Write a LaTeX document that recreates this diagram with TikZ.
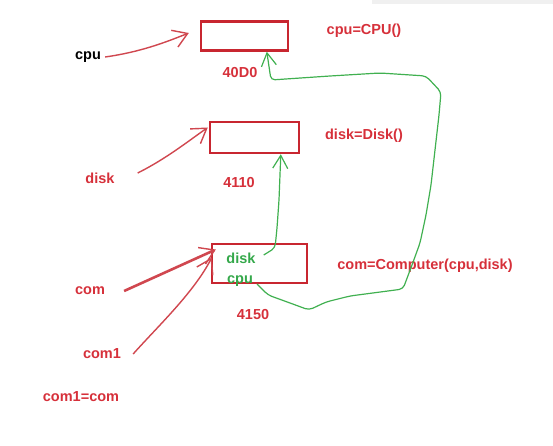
\documentclass[tikz,border=0pt]{standalone}
\usepackage{fontspec}
\setmainfont{Liberation Sans}
\usetikzlibrary{arrows.meta}
\definecolor{txtred}{RGB}{214,48,58}
\definecolor{boxred}{RGB}{200,38,48}
\definecolor{linkgreen}{RGB}{64,176,80}
\definecolor{txtgreen}{RGB}{52,168,74}
\tikzset{
  lbl/.style={font=\fontsize{14.5}{17}\selectfont\bfseries, text=txtred, inner sep=0pt},
  glbl/.style={font=\fontsize{14.5}{17}\selectfont\bfseries, text=txtgreen, inner sep=0pt},
  membox/.style={draw=boxred, line width=2.4pt, inner sep=0pt},
  redarrow/.style={draw=boxred!85!white, line width=1.4pt, -{Straight Barb[length=14pt,width=18pt,line width=1.4pt]}},
  greenarrow/.style={draw=linkgreen, line width=1.2pt, rounded corners=4pt, -{Straight Barb[length=13pt,width=15pt,line width=1.2pt]}}
}
\begin{document}
\begin{tikzpicture}[x=1pt,y=-1pt]
\useasboundingbox (0,0) rectangle (553,446);
\fill[gray!12] (372,0) rectangle (553,4);
% memory boxes
\node[membox, minimum width=87pt, minimum height=29pt] (cpubox) at (244.5,36) {};
\node[membox, minimum width=89pt, minimum height=31pt] (diskbox) at (254.5,137.5) {};
\node[membox, minimum width=95pt, minimum height=39pt] (combox) at (259.5,263.5) {};
% labels
\node[lbl, text=black] (cpulbl) at (88,57) {cpu};
\node[lbl] (cpuaddr) at (240,73) {40D0};
\node[lbl] (cpucode) at (364,31) {cpu=CPU()};
\node[lbl] (disklbl) at (100,178) {disk};
\node[lbl] (diskaddr) at (239,183) {4110};
\node[lbl] (diskcode) at (364,136) {disk=Disk()};
\node[lbl] (comlbl) at (90,291) {com};
\node[lbl] (com1lbl) at (102,354) {com1};
\node[lbl] (com1code) at (81,397) {com1=com};
\node[lbl] (comaddr) at (253,315) {4150};
\node[lbl] (comcode) at (425,266) {com=Computer(cpu,disk)};
\node[glbl] (gdisk) at (241,258) {disk};
\node[glbl] (gcpu) at (240,281) {cpu};
% tips
\coordinate (cputip) at ([xshift=-11pt,yshift=3pt]cpubox.west);
\coordinate (disktip) at ([xshift=-1pt,yshift=10pt]diskbox.west);
\coordinate (comtip) at ([xshift=5pt,yshift=14pt]combox.west);
\coordinate (com1tip) at ([xshift=1pt,yshift=6pt]combox.west);
\coordinate (dtip) at ([xshift=72pt]diskbox.south west);
\coordinate (ctip) at ([xshift=67pt]cpubox.south west);
% red pointer arrows
\draw[redarrow] ([xshift=4pt]cpulbl.east) .. controls +(35,-5) and +(-25,10) .. (cputip);
\draw[redarrow] ([xshift=23pt,yshift=5pt]disklbl.east) .. controls +(28,-14) and +(-20,14) .. (disktip);
\draw[redarrow, line width=2.6pt] ([xshift=19pt]comlbl.east) -- (comtip);
\draw[redarrow] ([xshift=12pt]com1lbl.east) .. controls +(25,-28) and +(-18,35) .. (com1tip);
% green reference links
\draw[greenarrow] ([xshift=8pt,yshift=3pt]gdisk.east) -- (275,248) -- (277,228) -- (279,200) -- (dtip);
\draw[greenarrow] ([xshift=4pt,yshift=-3pt]gcpu.east) -- (268,295) -- (290,303) -- (309,310) -- (326,302) -- (350,296)
  -- (403,289) -- (412,265) -- (420,243) -- (426,215) -- (431,185) -- (435,150) -- (439,115) -- (441,92)
  -- (426,76) -- (380,73) -- (330,76) -- (271,80) -- (ctip);
\end{tikzpicture}
\end{document}
